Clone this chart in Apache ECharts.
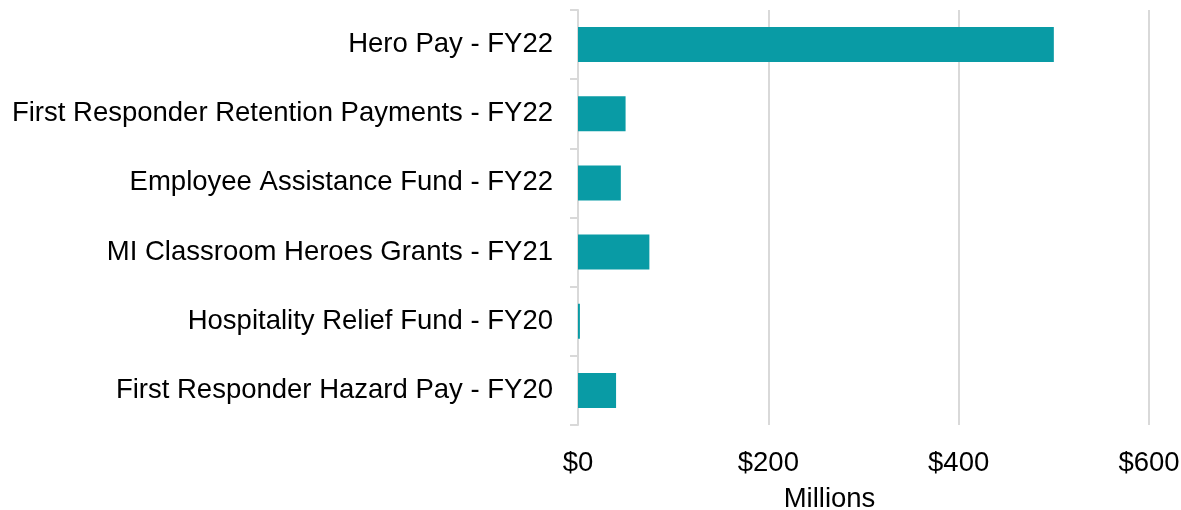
<!DOCTYPE html>
<html>
<head>
<meta charset="utf-8">
<script src="https://cdn.jsdelivr.net/npm/echarts@6/dist/echarts.min.js"></script>
<style>
  html, body { margin: 0; padding: 0; background: #fff; }
  #chart { width: 1181px; height: 510px; }
</style>
</head>
<body>
<div id="chart"></div>
<script>
  // categories top to bottom
  var programs = [
    'Hero Pay - FY22',
    'First Responder Retention Payments - FY22',
    'Employee Assistance Fund - FY22',
    'MI Classroom Heroes Grants - FY21',
    'Hospitality Relief Fund - FY20',
    'First Responder Hazard Pay - FY20'
  ]
  // millions of dollars
  var amounts = [500, 50, 45, 75, 2, 40]

  var xTicks = [0, 200, 400, 600]

  var myChart = echarts.init(document.getElementById('chart'))

  var option = {
    animation: false,
    textStyle: {
      fontFamily: 'Liberation Sans, Arial, sans-serif'
    },
    grid: {
      left: 578,
      right: 32,
      top: 10,
      bottom: 85,
      outerBoundsMode: 'none'
    },
    xAxis: {
      type: 'value',
      min: xTicks[0],
      max: xTicks[xTicks.length - 1],
      interval: 200,
      name: 'Millions',
      nameLocation: 'middle',
      nameGap: 60,
      nameTextStyle: {
        color: '#000',
        fontSize: 27.5,
        padding: [0, 68, 0, 0]
      },
      axisLine: { show: false },
      axisTick: { show: false },
      axisLabel: {
        color: '#000',
        fontSize: 27.5,
        margin: 24,
        formatter: function (v) { return '$' + v }
      },
      splitLine: {
        show: true,
        lineStyle: { color: '#d9d9d9', width: 2 }
      }
    },
    yAxis: {
      type: 'category',
      inverse: true,
      data: programs,
      axisLine: {
        show: true,
        lineStyle: { color: '#d9d9d9', width: 2 }
      },
      axisTick: {
        show: true,
        length: 8,
        lineStyle: { color: '#d9d9d9', width: 2 }
      },
      axisLabel: {
        color: '#000',
        fontSize: 27.5,
        margin: 25
      }
    },
    series: [{
      type: 'bar',
      data: amounts,
      barWidth: 35,
      itemStyle: {
        color: '#099ba5'
      }
    }]
  }

  myChart.setOption(option)
</script>
</body>
</html>
